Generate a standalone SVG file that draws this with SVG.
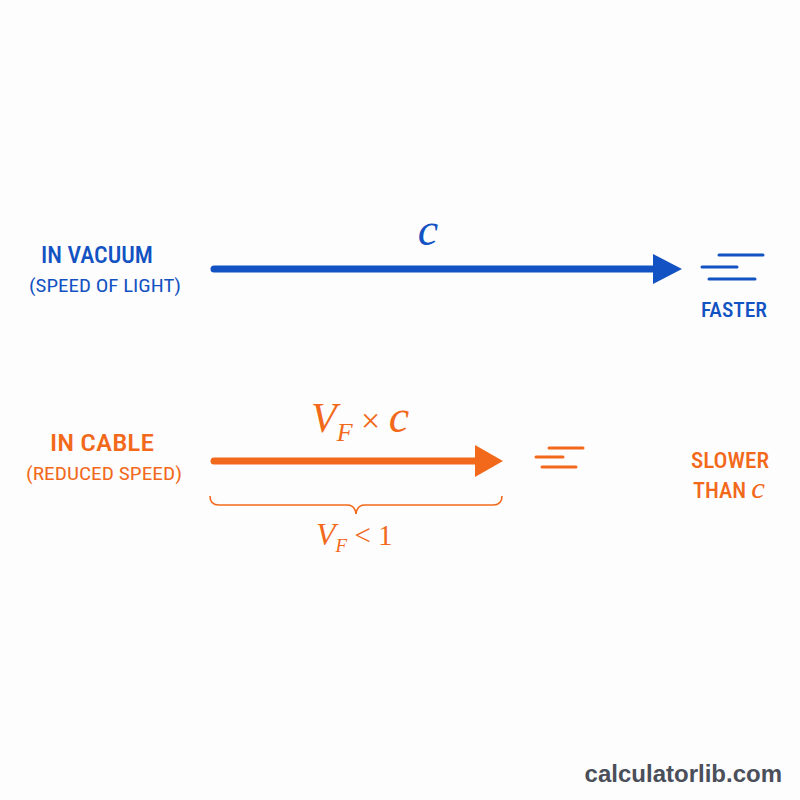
<svg xmlns="http://www.w3.org/2000/svg" width="800" height="800" viewBox="0 0 800 800">
<style>
.lbl{font-family:"Roboto Condensed","Liberation Sans Narrow","Roboto","Liberation Sans",sans-serif;font-weight:500;text-anchor:middle}
.sub{font-weight:normal}
.blue{fill:#1352c2}
.orange{fill:#f2691b}
.math{font-family:"Liberation Serif","DejaVu Serif",serif;font-style:italic;font-weight:normal}
.sl{stroke-linecap:round;stroke-width:3;fill:none}
</style>
<rect width="800" height="800" fill="#fdfdfd"/>
<g id="vacuum-label">
<text class="lbl blue" x="97" y="263" font-size="24" textLength="112" lengthAdjust="spacingAndGlyphs">IN VACUUM</text>
<text class="lbl sub blue" x="105" y="292" font-size="19" textLength="152" lengthAdjust="spacingAndGlyphs">(SPEED OF LIGHT)</text>
</g>
<g id="cable-label">
<text class="lbl orange" x="102" y="451" font-size="24" textLength="104" lengthAdjust="spacingAndGlyphs">IN CABLE</text>
<text class="lbl sub orange" x="104" y="480" font-size="19" textLength="156" lengthAdjust="spacingAndGlyphs">(REDUCED SPEED)</text>
</g>
<g id="connectors">
<line x1="214" y1="269" x2="656" y2="269" stroke="#1352c2" stroke-width="7" stroke-linecap="round"/>
<polygon points="653,254 682,269 653,284" fill="#1352c2"/>
<line x1="214" y1="461" x2="477" y2="461" stroke="#f2691b" stroke-width="7" stroke-linecap="round"/>
<polygon points="475,445 503,461 475,477" fill="#f2691b"/>
<path d="M210,496 Q210,505 219,505 L347,505 Q355,505 356,514 Q357,505 365,505 L493,505 Q502,505 502,496" stroke="#f2691b" stroke-width="1.6" fill="none"/>
</g>
<g id="c-label">
<text class="math blue" x="428" y="245" font-size="46" text-anchor="middle">c</text>
</g>
<g id="faster">
<line class="sl" x1="719" y1="255" x2="763" y2="255" stroke="#1352c2"/>
<line class="sl" x1="702" y1="267" x2="737" y2="267" stroke="#1352c2"/>
<line class="sl" x1="709" y1="279" x2="755" y2="279" stroke="#1352c2"/>
<text class="lbl blue" x="734" y="317" font-size="21" textLength="66" lengthAdjust="spacingAndGlyphs">FASTER</text>
</g>
<g id="vfc-label">
<text class="math orange" x="311" y="432" font-size="42">V<tspan font-size="26" dy="9">F</tspan><tspan font-style="normal" dy="-9" font-size="34"> × </tspan><tspan font-size="46">c</tspan></text>
</g>
<g id="slower">
<line class="sl" x1="549" y1="448" x2="583" y2="448" stroke="#f2691b"/>
<line class="sl" x1="536" y1="457" x2="563" y2="457" stroke="#f2691b"/>
<line class="sl" x1="542" y1="467" x2="576" y2="467" stroke="#f2691b"/>
<text class="lbl orange" x="730" y="468" font-size="22" textLength="78" lengthAdjust="spacingAndGlyphs">SLOWER</text>
<text class="lbl orange" x="729" y="498" font-size="22" textLength="72" lengthAdjust="spacingAndGlyphs">THAN <tspan class="math" font-size="30">c</tspan></text>
</g>
<g id="vf-lt-1">
<text class="math orange" x="316" y="545" font-size="32">V<tspan font-size="19" dy="7">F</tspan><tspan font-style="normal" dy="-7" font-size="29"> &lt; 1</tspan></text>
</g>
<text x="782" y="782" font-family="Liberation Sans,Arial,sans-serif" font-weight="bold" font-size="24" fill="#4a4f5a" text-anchor="end">calculatorlib.com</text>
</svg>
